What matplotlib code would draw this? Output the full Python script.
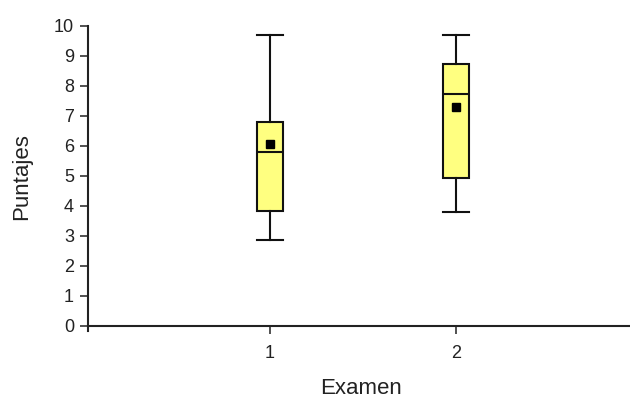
import matplotlib
matplotlib.use("Agg")
import matplotlib.pyplot as plt

# Data
examenes = [1, 2]
tick_labels = ["1", "2"]
q1 = [3.84, 4.92]
medianas = [5.79, 7.73]
q3 = [6.78, 8.72]
bigote_inf = [2.86, 3.79]
bigote_sup = [9.68, 9.68]
medias = [6.07, 7.29]
y_ticks = list(range(0, 11))

plt.rcParams['font.family'] = ['Liberation Sans', 'DejaVu Sans']

fig = plt.figure(figsize=(6.3, 4.0), dpi=100)
ax = fig.add_axes([88/630, 69/400, 1 - 88/630, (331 - 25.7)/400])

stats = []
for i in range(len(examenes)):
    stats.append(dict(med=medianas[i], q1=q1[i], q3=q3[i],
                      whislo=bigote_inf[i], whishi=bigote_sup[i],
                      mean=medias[i], fliers=[]))

lw = 1.5
ax.bxp(stats, positions=examenes, widths=0.14, capwidths=0.14,
       showmeans=True, patch_artist=True, showfliers=False,
       boxprops=dict(facecolor='#FFFF80', edgecolor='#111111', linewidth=lw),
       medianprops=dict(color='#111111', linewidth=lw),
       whiskerprops=dict(color='#111111', linewidth=lw),
       capprops=dict(color='#111111', linewidth=lw),
       meanprops=dict(marker='s', markerfacecolor='black',
                      markeredgecolor='black', markersize=6))

ax.set_xlim(0.0215, 2.935)
ax.set_ylim(-0.17, 10)
ax.set_xticks(examenes)
ax.set_xticklabels(tick_labels)
ax.set_yticks(y_ticks)

for s in ['top', 'right']:
    ax.spines[s].set_visible(False)
ax.spines['bottom'].set_position(('data', 0))
for s in ['left', 'bottom']:
    ax.spines[s].set_linewidth(1.5)
    ax.spines[s].set_color('#222222')

ax.tick_params(axis='both', direction='out', length=6, width=1.1,
               color='#222222', labelsize=13, labelcolor='#222222')
ax.tick_params(axis='y', pad=4)
ax.tick_params(axis='x', pad=8)

fig.text(361/630, 1 - 388/400, 'Examen', ha='center', va='center',
         fontsize=16, color='#222222')
fig.text(22/630, 1 - 177/400, 'Puntajes', ha='center', va='center',
         rotation=90, fontsize=16, color='#222222')

fig.savefig('out.png', dpi=100)
